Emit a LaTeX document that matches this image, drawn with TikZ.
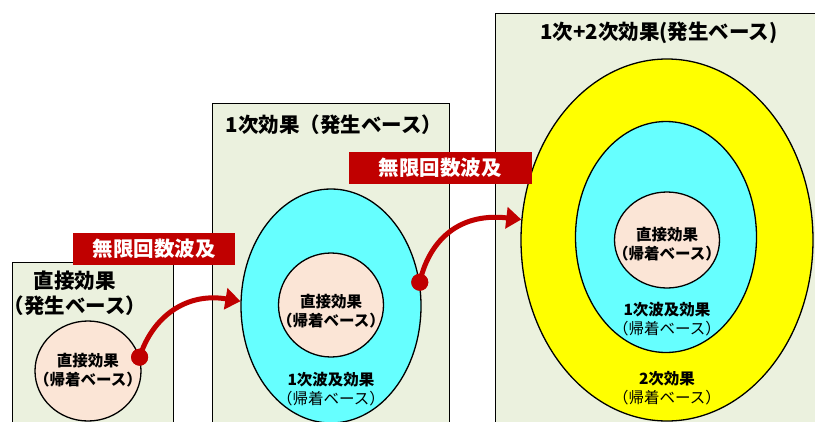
\documentclass[tikz,border=0pt]{standalone}
\usepackage{fontspec}
\setmainfont{Noto Sans CJK JP}
\usetikzlibrary{shapes.geometric,arrows.meta}
\definecolor{boxfill}{HTML}{EBF1DE}
\definecolor{peach}{HTML}{FBE5D6}
\definecolor{cyanfill}{HTML}{66FFFF}
\definecolor{yel}{HTML}{FFFF00}
\definecolor{dred}{HTML}{C00000}
\begin{document}
\begin{tikzpicture}[x=1pt,y=-1pt,
  panel/.style={draw=black,line width=1.3pt,fill=boxfill,rectangle,anchor=north west,inner sep=0pt},
  oval/.style={ellipse,draw=black,line width=1.3pt,inner sep=0pt},
  title/.style={font=\fontsize{20.5}{25}\selectfont\bfseries,align=center,inner sep=0pt},
  small/.style={font=\fontsize{15.5}{19}\selectfont,align=center,inner sep=0pt},
  lab/.style={fill=dred,text=white,font=\fontsize{20.5}{23}\selectfont\bfseries,inner sep=0pt},
  dot/.style={circle,fill=dred,inner sep=0pt,minimum size=17pt},
  flow/.style={draw=dred,line width=5pt,-{Triangle[length=15pt,width=21pt]}}]
\clip (0,0) rectangle (815,421);
% panels
\node[panel,minimum width=161pt,minimum height=180pt] (b1) at (12,262) {};
\node[panel,minimum width=237pt,minimum height=330pt] (b2) at (212,103) {};
\node[panel,minimum width=340pt,minimum height=420pt] (b3) at (495,13) {};
% titles
\node[title] (t1) at (75,293) {直接効果\\（発生ベース）};
\node[title] (t2) at (334,125) {1次効果（発生ベース）};
\node[title] (t3) at (659,33) {1次+2次効果(発生ベース)};
% panel 1
\node[oval,fill=peach,minimum width=106pt,minimum height=100pt] (c1) at (88,371) {};
\node[small] (c1t) at (88,370) {\bfseries 直接効果\\\bfseries （帰着ベース）};
% panel 2
\node[oval,fill=cyanfill,minimum width=180pt,minimum height=234pt] (e2) at (331,306) {};
\node[oval,fill=peach,minimum width=105pt,minimum height=104pt] (c2) at (331,305) {};
\node[small] (c2t) at (331,311) {\bfseries 直接効果\\\bfseries （帰着ベース）};
\node[small] (e2t) at (331,389) {\bfseries 1次波及効果\\（帰着ベース）};
% panel 3
\node[oval,fill=yel,minimum width=292pt,minimum height=362pt] (e3) at (667,240) {};
\node[oval,fill=cyanfill,minimum width=181pt,minimum height=231pt] (e3b) at (666,237) {};
\node[oval,fill=peach,minimum width=105pt,minimum height=96pt] (c3) at (667,240) {};
\node[small] (c3t) at (667,244) {\bfseries 直接効果\\\bfseries （帰着ベース）};
\node[small] (e3bt) at (667,319) {\bfseries 1次波及効果\\（帰着ベース）};
\node[small] (e3t) at (667,388) {\bfseries 2次効果\\（帰着ベース）};
% arrows
\node[dot] (d1) at (c1.15) {};
\node[dot] (d2) at (e2.15) {};
\draw[flow] (d1.center) .. controls (152,318) and (185,292) .. (e2.177);
\draw[flow] (d2.center) .. controls (428,245) and (455,212) .. (e3.172);
\node[dot] at (d1) {};
\node[dot] at (d2) {};
% labels
\node[lab,minimum width=162pt,minimum height=32pt] (l1) at (154,249) {無限回数波及};
\node[lab,minimum width=183pt,minimum height=32pt] (l2) at (440,168) {無限回数波及};
\end{tikzpicture}
\end{document}
